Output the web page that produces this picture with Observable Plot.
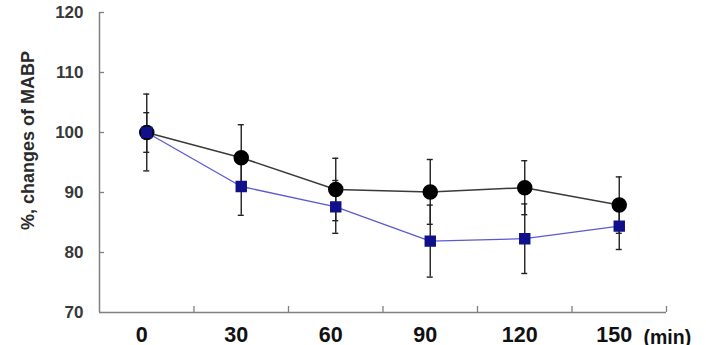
<!DOCTYPE html>
<html>
<head>
<meta charset="utf-8">
<script src="https://cdn.jsdelivr.net/npm/d3@7"></script>
<script src="https://cdn.jsdelivr.net/npm/@observablehq/plot@0.6"></script>
<style>
  html, body { margin: 0; padding: 0; background: #fff; }
  #chart svg { display: block; }
  #chart [aria-label="x-axis tick label"] text { font-weight: bold; }
  #chart [aria-label="y-axis tick label"] text { font-weight: bold; }
</style>
</head>
<body>
<div id="chart"></div>
<script>
// Time points (min)
const times = [0, 30, 60, 90, 120, 150];
// Circle series: mean and SD of % change in MABP
const circleMean = [100, 95.8, 90.5, 90.1, 90.8, 87.9];
const circleSD   = [6.4, 5.5, 5.2, 5.4, 4.5, 4.7];
// Square series: mean and SD of % change in MABP
const squareMean = [100, 91.0, 87.6, 81.9, 82.3, 84.4];
const squareSD   = [3.3, 4.8, 4.4, 6.0, 5.8, 3.9];
// Axis ticks
const yTicks = [70, 80, 90, 100, 110, 120];
const xBoundaries = [15, 45, 75, 105, 135, 165];

const circles = times.map((t, i) => ({t, m: circleMean[i], lo: circleMean[i] - circleSD[i], hi: circleMean[i] + circleSD[i]}));
const squares = times.map((t, i) => ({t, m: squareMean[i], lo: squareMean[i] - squareSD[i], hi: squareMean[i] + squareSD[i]}));

const font = "'Liberation Sans', Arial, sans-serif";

function errorBars(data) {
  return [
    Plot.ruleX(data, {x: "t", y1: "lo", y2: "hi", stroke: "#222", strokeWidth: 1.4}),
    Plot.ruleY(data, {x1: "t", x2: "t", y: "lo", insetLeft: -3, insetRight: -3, stroke: "#222", strokeWidth: 1.4}),
    Plot.ruleY(data, {x1: "t", x2: "t", y: "hi", insetLeft: -3, insetRight: -3, stroke: "#222", strokeWidth: 1.4})
  ];
}

const chart = Plot.plot({
  width: 706,
  height: 345,
  marginLeft: 99,
  marginRight: 40,
  marginTop: 12,
  marginBottom: 33,
  style: {fontFamily: font, background: "#fff", color: "#222", overflow: "visible"},
  x: {type: "linear", domain: [-15, 165]},
  y: {domain: [70, 120]},
  marks: [
    // axis lines
    Plot.ruleX([-15], {stroke: "#808080", strokeWidth: 1.5}),
    Plot.ruleY([70], {stroke: "#808080", strokeWidth: 1.5}),
    // inward tick marks
    Plot.axisY({ticks: yTicks.slice(1), tickSize: -5, tickFormat: () => "", stroke: "#808080", strokeWidth: 1.3, label: null}),
    Plot.axisX({ticks: xBoundaries, tickSize: -6, tickFormat: () => "", stroke: "#808080", strokeWidth: 1.3, label: null}),
    // tick labels
    Plot.axisY({ticks: yTicks, tickSize: 0, tickPadding: 16, fontSize: 17, fill: "#383838", label: null}),
    Plot.axisX({ticks: times, tickSize: 0, tickPadding: 14, fontSize: 21.5, fill: "#111", dx: -5, label: null}),
    // axis titles
    Plot.text(["%, changes of MABP"], {frameAnchor: "left", textAnchor: "middle", dx: -71, dy: -22, rotate: -90, fontSize: 18, fontWeight: "bold", fill: "#2a2a2a"}),
    Plot.text(["(min)"], {frameAnchor: "bottom-right", textAnchor: "start", lineAnchor: "bottom", dx: -23, dy: 31, fontSize: 19.5, fontWeight: "bold", fill: "#111"}),
    // error bars
    ...errorBars(squares),
    ...errorBars(circles),
    // series lines
    Plot.line(circles, {x: "t", y: "m", stroke: "#3a3a3a", strokeWidth: 1.5}),
    Plot.line(squares, {x: "t", y: "m", stroke: "#5a5ad2", strokeWidth: 1.3}),
    // markers
    Plot.dot(circles, {x: "t", y: "m", r: 7, fill: "#000", stroke: "#000"}),
    Plot.dot(squares, {x: "t", y: "m", symbol: "square", r: 5.6, fill: "#10108a", stroke: "#10108a"})
  ]
});

document.getElementById("chart").appendChild(chart);
</script>
</body>
</html>
